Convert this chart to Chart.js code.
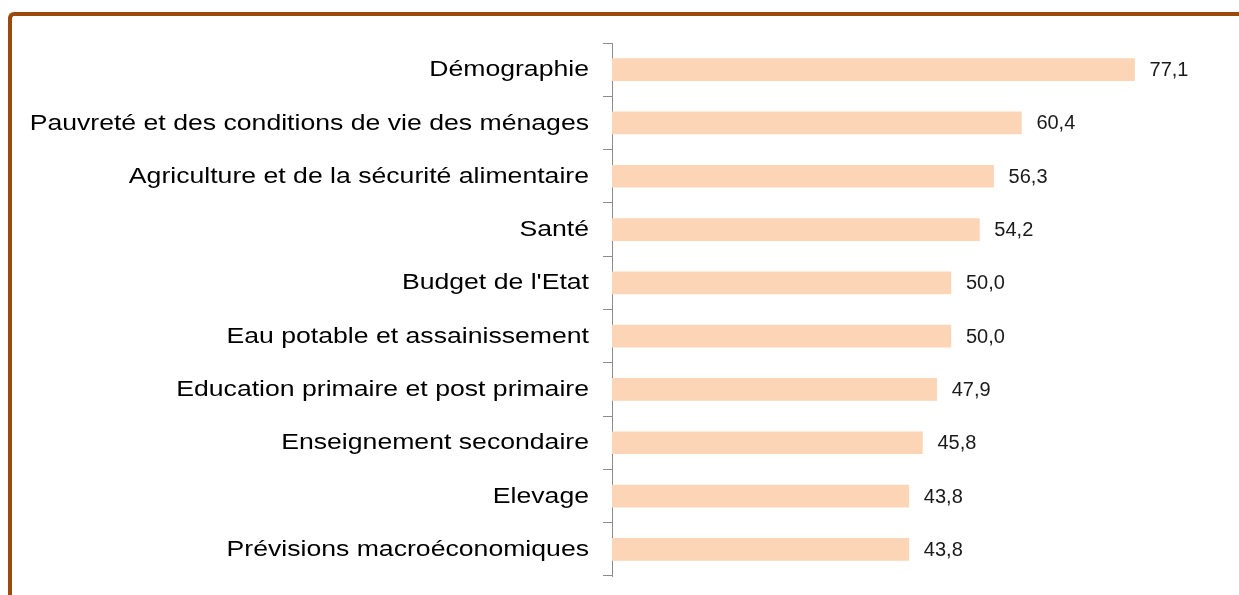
<!DOCTYPE html>
<html>
<head>
<meta charset="utf-8">
<script src="https://cdn.jsdelivr.net/npm/chart.js@4"></script>
<style>
html,body{margin:0;padding:0;background:#fff;overflow:hidden;}
#wrap{position:relative;width:1239px;height:595px;}
#frame{position:absolute;left:8px;top:12px;width:1300px;height:700px;border-top:4px solid #9B4A0C;border-left:4px solid #9B4A0C;border-radius:6px;box-sizing:border-box;}
canvas{position:absolute;left:0;top:0;}
</style>
</head>
<body>
<div id="wrap">
<div id="frame"></div>
<canvas id="c" width="1239" height="595"></canvas>
</div>
<script>
const categories = [
  "Démographie",
  "Pauvreté et des conditions de vie des ménages",
  "Agriculture et de la sécurité alimentaire",
  "Santé",
  "Budget de l'Etat",
  "Eau potable et assainissement",
  "Education primaire et post primaire",
  "Enseignement secondaire",
  "Elevage",
  "Prévisions macroéconomiques"
];
const values = [77.1, 60.4, 56.3, 54.2, 50.0, 50.0, 47.9, 45.8, 43.8, 43.8];

const textPlugin = {
  id: 'textPlugin',
  afterDatasetsDraw(chart) {
    const ctx = chart.ctx;
    const meta = chart.getDatasetMeta(0);
    const yScale = chart.scales.y;
    ctx.save();
    ctx.font = '20px "Liberation Sans", Arial, sans-serif';
    ctx.fillStyle = '#1a1a1a';
    ctx.textAlign = 'left';
    ctx.textBaseline = 'middle';
    meta.data.forEach((bar, i) => {
      ctx.fillText(values[i].toFixed(1).replace('.', ','), bar.x + 15, bar.y + 1);
    });
    ctx.restore();
    ctx.save();
    ctx.font = '22px "Liberation Sans", Arial, sans-serif';
    ctx.fillStyle = '#000';
    ctx.textAlign = 'right';
    ctx.textBaseline = 'middle';
    categories.forEach((c, i) => {
      const y = yScale.getPixelForTick(i);
      ctx.save();
      ctx.translate(589, y + 0.5);
      ctx.scale(1.21, 1);
      ctx.fillText(c, 0, 0);
      ctx.restore();
    });
    ctx.restore();
  }
};

new Chart(document.getElementById('c'), {
  type: 'bar',
  data: {
    labels: categories,
    datasets: [{
      data: values,
      backgroundColor: '#FBD5B5',
      borderWidth: 0,
      barThickness: 22
    }]
  },
  options: {
    indexAxis: 'y',
    responsive: false,
    animation: false,
    devicePixelRatio: 1,
    layout: { padding: { top: 43, bottom: 19, right: 17, left: 0 } },
    plugins: { legend: { display: false }, tooltip: { enabled: false } },
    scales: {
      x: { display: false, min: 0, max: 90 },
      y: {
        afterFit(scale) { scale.width = 612; },
        border: { display: true, color: '#8c8c8c', width: 1 },
        grid: { offset: true, drawOnChartArea: false, drawTicks: true, tickLength: 9, color: '#8c8c8c' },
        ticks: { display: false }
      }
    }
  },
  plugins: [textPlugin]
});
</script>
</body>
</html>
